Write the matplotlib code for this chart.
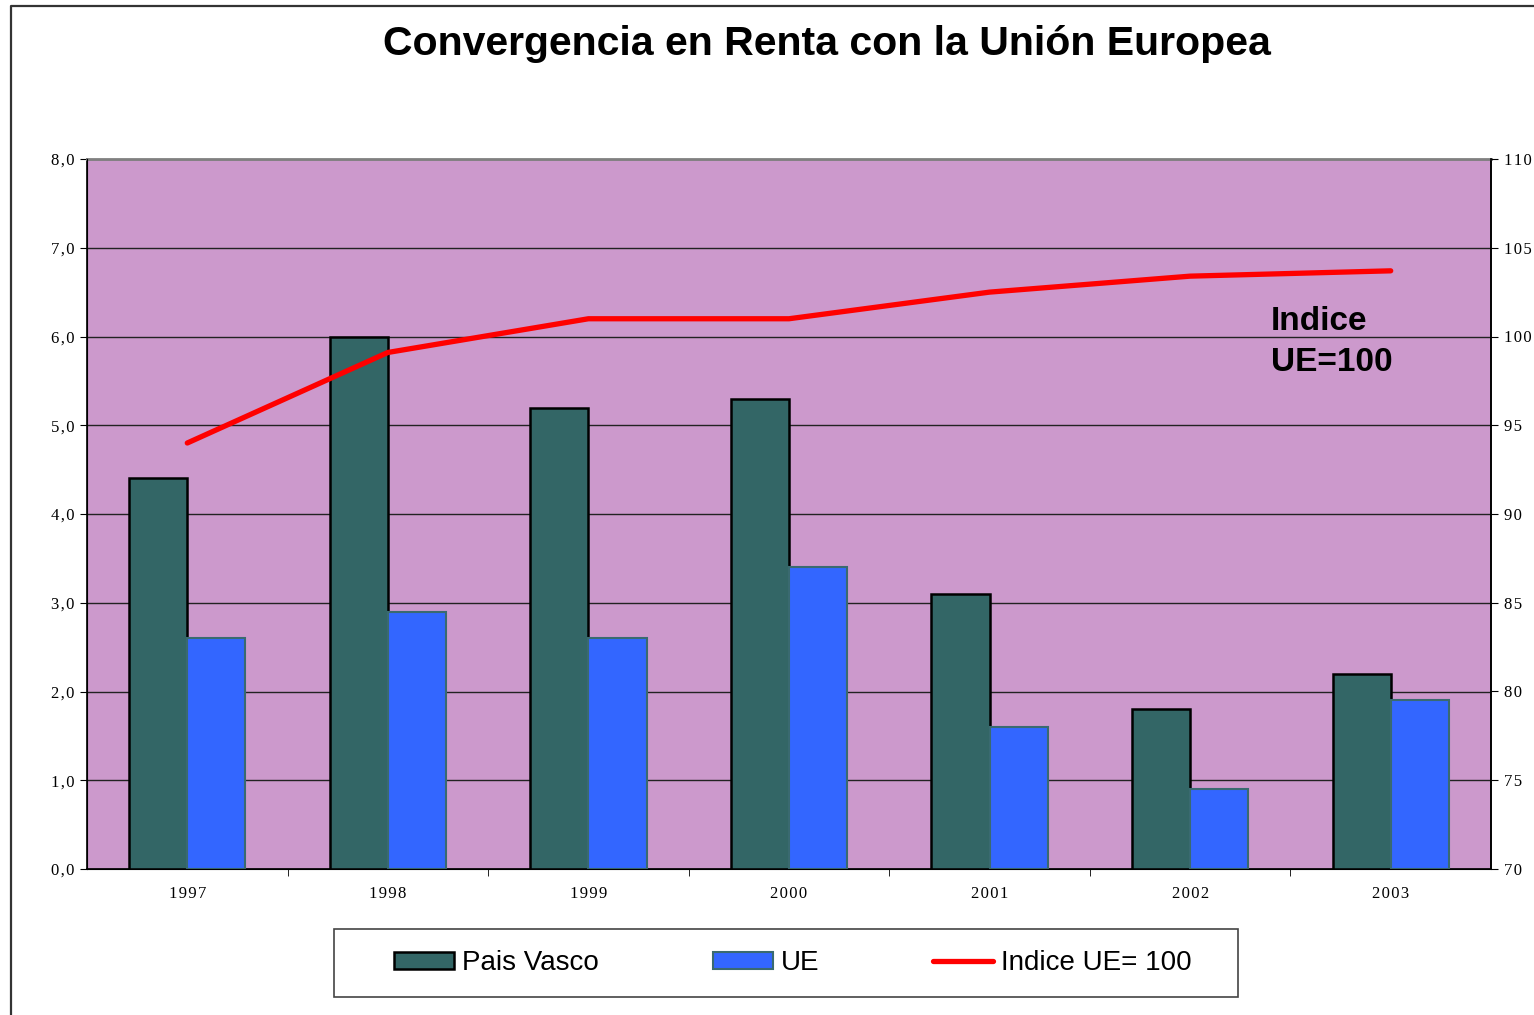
import matplotlib
matplotlib.use("Agg")
import matplotlib.pyplot as plt
from matplotlib.patches import Rectangle, Patch
from matplotlib.lines import Line2D
from matplotlib.ticker import FixedLocator, FuncFormatter
import numpy as np

years = ["1997", "1998", "1999", "2000", "2001", "2002", "2003"]
pais_vasco = [4.4, 6.0, 5.2, 5.3, 3.1, 1.8, 2.2]
ue = [2.6, 2.9, 2.6, 3.4, 1.6, 0.9, 1.9]
indice = [94.0, 99.1, 101.0, 101.0, 102.5, 103.4, 103.7]

title = "Convergencia en Renta con la Unión Europea"
c_pv = "#336666"
c_ue = "#3366FF"
c_bg = "#CC99CC"
c_line = "#FF0000"

SP = "\u200a"


def spaced(s):
    return SP.join(s)


W, H = 1534, 1015
fig = plt.figure(figsize=(W / 100, H / 100), dpi=100)
fig.patch.set_facecolor("white")

ax = fig.add_axes([87 / W, 1 - 869 / H, (1491 - 87) / W, (869 - 159) / H])
ax.set_facecolor(c_bg)
x = np.arange(len(years))
bw = 0.29
ax.bar(x - bw / 2, pais_vasco, width=bw, color=c_pv, edgecolor="black", linewidth=1.8, zorder=3)
ax.bar(x + bw / 2, ue, width=bw, color=c_ue, edgecolor="#3a6a70", linewidth=1.5, zorder=3)
ax.set_xlim(-0.5, len(years) - 0.5)
ax.set_ylim(0, 8)
ax.set_yticks(np.arange(0, 8.01, 1.0))
ax.yaxis.set_major_formatter(FuncFormatter(lambda v, p: spaced(f"{v:.1f}".replace(".", ","))))
ax.grid(axis="y", color="#222222", linewidth=1.0, zorder=1)
ax.set_axisbelow(True)
ax.set_xticks(x)
ax.set_xticklabels([spaced(y) for y in years])
ax.xaxis.set_minor_locator(FixedLocator(np.arange(0.5, len(years) - 0.5, 1.0)))
ax.tick_params(axis="x", which="major", length=0, pad=12)
ax.tick_params(axis="x", which="minor", length=5, direction="out", color="black")
ax.tick_params(axis="y", which="major", length=5, direction="out", pad=4)
for lab in ax.get_xticklabels() + ax.get_yticklabels():
    lab.set_fontfamily("Liberation Serif")
    lab.set_fontsize(12)
ax.spines["top"].set_color("#808080")
ax.spines["top"].set_linewidth(2)
for s in ["left", "bottom", "right"]:
    ax.spines[s].set_color("black")
    ax.spines[s].set_linewidth(1.2)

ax2 = ax.twinx()
ax2.plot(x, indice, color=c_line, linewidth=3.8, solid_capstyle="round", solid_joinstyle="round", zorder=5)
ax2.set_ylim(70, 110)
ax2.set_yticks(np.arange(70, 111, 5))
ax2.yaxis.set_major_formatter(FuncFormatter(lambda v, p: spaced(f"{v:.0f}")))
ax2.tick_params(axis="y", length=5, direction="out", pad=4)
for lab in ax2.get_yticklabels():
    lab.set_fontfamily("Liberation Serif")
    lab.set_fontsize(12)
ax2.spines["top"].set_visible(False)
ax2.spines["right"].set_color("black")
ax2.spines["right"].set_linewidth(1.2)

ax2.text((1271 - 87) / 1404, (869 - 342) / 710, "Indice\nUE=100", transform=ax.transAxes,
         ha="left", va="center", fontsize=24, fontweight="bold", family="Liberation Sans",
         linespacing=1.45, zorder=6)

fig.text(827 / W, 1 - 44 / H, title, ha="center", va="center", fontsize=29.5,
         fontweight="bold", family="Liberation Sans")

# legend box
fig.add_artist(Rectangle((334 / W, 1 - 997 / H), (1238 - 334) / W, (997 - 929) / H,
                         transform=fig.transFigure, facecolor="white", edgecolor="#444444",
                         linewidth=1.2))
fs = 20
fpx = fs * 100 / 72
handles = [Patch(facecolor=c_pv, edgecolor="black", linewidth=1.8),
           Patch(facecolor=c_ue, edgecolor="#3a6a70", linewidth=1.5),
           Line2D([], [], color=c_line, linewidth=3.8, solid_capstyle="round")]
leg = fig.legend(handles, ["Pais Vasco", "UE", "Indice UE= 100"], ncol=3,
                 loc="center left", bbox_to_anchor=(394 / W, 1 - 963 / H),
                 frameon=False, borderpad=0, borderaxespad=0,
                 handlelength=60 / fpx, handleheight=0.55, handletextpad=8 / fpx,
                 columnspacing=114 / fpx, prop={"family": "Liberation Sans", "size": fs})

# outer chart border (left and top)
fig.add_artist(Line2D([11 / W, 11 / W, 1.0], [0.0, 1 - 6 / H, 1 - 6 / H],
                      transform=fig.transFigure, color="#333333", linewidth=1.6))

fig.savefig("out.png", dpi=100)
